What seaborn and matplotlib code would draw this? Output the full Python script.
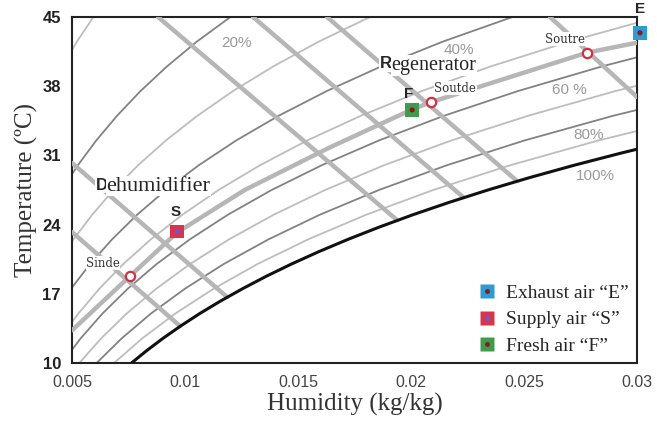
import numpy as np
import pandas as pd
import matplotlib
matplotlib.use("Agg")
import matplotlib.pyplot as plt
import seaborn as sns
from matplotlib.lines import Line2D
from matplotlib.legend_handler import HandlerTuple

nan = np.nan
# ---------------- data ----------------
temps = [10, 12.5, 15, 17.5, 20, 22.5, 25, 27.5, 30, 32.5, 35, 37.5, 40, 42.5, 45]
rh_levels = [10, 20, 30, 40, 50, 60, 70, 80, 90]
w_rh90 = [0.006860, 0.008114, 0.009569, 0.011258, 0.013198, 0.015441, 0.018020, 0.020982, 0.024383, 0.028274, 0.032735, nan, nan, nan, nan]
w_rh80 = [0.006091, 0.007202, 0.008491, 0.009987, 0.011704, 0.013688, 0.015966, 0.018581, 0.021580, 0.025006, 0.028929, 0.033400, nan, nan, nan]
w_rh70 = [0.005323, 0.006293, 0.007417, 0.008721, 0.010217, 0.011944, 0.013926, 0.016198, 0.018801, 0.021771, 0.025167, 0.029030, 0.033441, nan, nan]
w_rh60 = [0.004557, 0.005386, 0.006347, 0.007460, 0.008737, 0.010210, 0.011898, 0.013832, 0.016046, 0.018568, 0.021448, 0.024718, 0.028445, 0.032654, nan]
w_rh50 = [0.003793, 0.004482, 0.005280, 0.006205, 0.007264, 0.008485, 0.009884, 0.011484, 0.013314, 0.015397, 0.017771, 0.020463, 0.023525, 0.026975, 0.030915]
w_rh40 = [nan, 0.003580, 0.004217, 0.004954, 0.005797, 0.006769, 0.007882, 0.009154, 0.010606, 0.012257, 0.014136, 0.016263, 0.018678, 0.021395, 0.024488]
w_rh30 = [nan, nan, nan, 0.003708, 0.004338, 0.005063, 0.005893, 0.006840, 0.007921, 0.009147, 0.010542, 0.012118, 0.013904, 0.015909, 0.018187]
w_rh20 = [nan, nan, nan, nan, nan, nan, 0.003916, 0.004543, 0.005258, 0.006069, 0.006989, 0.008027, 0.009201, 0.010516, 0.012008]
w_rh10 = [nan, nan, nan, nan, nan, nan, nan, nan, nan, nan, 0.003475, 0.003988, 0.004567, 0.005214, 0.005947]

# saturation (100 %) curve
sat_T = [10, 11.25, 12.5, 13.75, 15, 16.25, 17.5, 18.75, 20, 21.25, 22.5, 23.75, 25, 26.25, 27.5, 28.75, 30, 31.25, 32.5]
sat_w = [0.007632, 0.008304, 0.009028, 0.009811, 0.010650, 0.011559, 0.012534, 0.013575, 0.014699, 0.015907,
         0.017204, 0.018597, 0.020087, 0.021689, 0.023401, 0.025239, 0.027211, 0.029324, 0.031575]

# thick process curve (dehumidifier -> regenerator)
proc_w = [0.0050, 0.00757, 0.00965, 0.01264, 0.0164, 0.0201, 0.0209, 0.0278, 0.0300]
proc_T = [13.3, 18.8, 23.2, 27.5, 31.8, 35.7, 36.4, 41.4, 42.4]

# thick diagonal lines (start / end)
diag_w0 = [0.008805, 0.013009, 0.016283, 0.026150, 0.005000, 0.005000]
diag_T0 = [45.0, 45.0, 45.0, 45.0, 30.23, 23.25]
diag_w1 = [0.019381, 0.022301, 0.024690, 0.030000, 0.011858, 0.009779]
diag_T1 = [24.46, 26.79, 28.41, 36.91, 16.68, 13.74]

# state points
pt_names = ["Exhaust air \u201cE\u201d", "Supply air \u201cS\u201d", "Fresh air \u201cF\u201d"]
pt_letters = ["E", "S", "F"]
pt_w = [0.03013, 0.00965, 0.02005]
pt_T = [43.4, 23.3, 35.6]
pt_face = ["#2f9bd3", "#d8344c", "#3f9c4e"]
pt_dot = ["#8b1a1a", "#6a5acd", "#8b1a1a"]

open_names = ["Sinde", "Soutde", "Soutre"]
open_w = [0.00757, 0.0209, 0.0278]
open_T = [18.8, 36.4, 41.4]

rh_labels = ["20%", "40%", "60 %", "80%", "100%"]
rh_lab_w = [0.01230, 0.02211, 0.02699, 0.02788, 0.02814]
rh_lab_T = [42.35, 41.65, 37.6, 33.1, 28.9]

xticks = [0.005, 0.01, 0.015, 0.02, 0.025, 0.03]
xtick_labels = ["0.005", "0.01", "0.015", "0.02", "0.025", "0.03"]
yticks = [10, 17, 24, 31, 38, 45]

# ---------------- build frames ----------------
curves = {10: w_rh10, 20: w_rh20, 30: w_rh30, 40: w_rh40, 50: w_rh50,
          60: w_rh60, 70: w_rh70, 80: w_rh80, 90: w_rh90}
rows = []
for rh in rh_levels:
    for T, w in zip(temps, curves[rh]):
        rows.append({"rh": rh, "w": w, "T": T})
df = pd.DataFrame(rows).dropna()

sns.set_theme(style="white")
plt.rcParams["font.family"] = ["Liberation Sans", "DejaVu Sans"]

fig = plt.figure(figsize=(6.57, 4.26), dpi=100)
ax = fig.add_axes([0.1096, 0.1479, 0.860, 0.8122])

palette = {rh: ("#828282" if rh % 20 == 0 else "#bdbdbd") for rh in rh_levels}

sns.lineplot(data=df, x="w", y="T", hue="rh", units="rh", palette=palette,
             estimator=None, sort=False, legend=False, lw=1.3, ax=ax, zorder=2)

# thick diagonal lines
for w0, T0, w1, T1 in zip(diag_w0, diag_T0, diag_w1, diag_T1):
    sns.lineplot(x=[w0, w1], y=[T0, T1], color="#b6b6b6", lw=3.2, ax=ax,
                 estimator=None, sort=False, zorder=3)

# thick process curve
sns.lineplot(x=proc_w, y=proc_T, color="#b6b6b6", lw=3.2, ax=ax,
             estimator=None, sort=False, zorder=3)

# saturation curve
sns.lineplot(x=sat_w, y=sat_T, color="#111111", lw=2.2,
             estimator=None, sort=False, ax=ax, zorder=4)

# RH labels
for lab, w, T in zip(rh_labels, rh_lab_w, rh_lab_T):
    ax.text(w, T, lab, color="#9a9a9a", fontsize=11, ha="center", va="center", zorder=5)

# text labels with white background
bbox = dict(facecolor="white", edgecolor="none", pad=0.5)
ax.text(0.00605, 28.0, "D", fontsize=12, fontweight="bold", ha="left", va="center",
        zorder=6, bbox=bbox)
ax.text(0.00652, 27.9, "ehumidifier", fontsize=16, family=["Liberation Serif"],
        ha="left", va="center", zorder=6, bbox=bbox)
ax.text(0.01860, 40.3, "R", fontsize=12, fontweight="bold", ha="left", va="center",
        zorder=6, bbox=bbox)
ax.text(0.01913, 40.1, "egenerator", fontsize=14.5, family=["Liberation Serif"],
        ha="left", va="center", zorder=6, bbox=bbox)

open_pos = [(0.00637, 20.1), (0.02195, 37.8), (0.02681, 42.75)]
for name, (w, T) in zip(open_names, open_pos):
    ax.text(w, T, name, fontsize=8.5, family=["DejaVu Serif"], color="#333333",
            ha="center", va="center", zorder=6,
            bbox=dict(facecolor="white", edgecolor="none", pad=0.3))

# open red circles
sns.scatterplot(x=open_w, y=open_T, s=45, facecolor="white", edgecolor="#d23040",
                linewidth=1.6, ax=ax, zorder=7, legend=False)

# state point markers
for w, T, fc, dc in zip(pt_w, pt_T, pt_face, pt_dot):
    ax.scatter([w], [T], marker="s", s=95, color=fc, edgecolor="none", zorder=8, clip_on=False)
    ax.scatter([w], [T], marker="o", s=14, color=dc, edgecolor="none", zorder=9, clip_on=False)

letter_pos = [(0.03013, 45.85), (0.00960, 25.3), (0.01990, 37.2)]
for letter, (w, T) in zip(pt_letters, letter_pos):
    ax.text(w, T, letter, fontsize=11, fontweight="bold", ha="center", va="center",
            zorder=9, clip_on=False)

# legend
handles = []
for fc, dc in zip(pt_face, pt_dot):
    h1 = Line2D([], [], marker="s", ls="none", markersize=10, color=fc, markeredgecolor="none")
    h2 = Line2D([], [], marker="o", ls="none", markersize=3.5, color=dc, markeredgecolor="none")
    handles.append((h1, h2))
leg = ax.legend(handles, pt_names, handler_map={tuple: HandlerTuple(ndivide=1)},
                loc="lower right", bbox_to_anchor=(1.006, -0.01), frameon=False,
                prop={"family": "Liberation Serif", "size": 14},
                handlelength=1.0, handletextpad=0.5, labelspacing=0.45, borderaxespad=0.2)

# axes styling
ax.set_xlim(0.005, 0.03)
ax.set_ylim(10, 45)
ax.set_xticks(xticks)
ax.set_xticklabels(xtick_labels)
ax.set_yticks(yticks)
ax.tick_params(axis="both", direction="in", length=5, width=1.2, color="#222222")
ax.tick_params(axis="x", labelsize=11.5, labelcolor="#444444", pad=9)
ax.tick_params(axis="y", labelsize=12, labelcolor="#222222", pad=8)
for lab in ax.get_yticklabels():
    lab.set_fontweight("bold")
for sp in ax.spines.values():
    sp.set_visible(True)
    sp.set_color("#222222")
    sp.set_linewidth(1.5)
ax.set_xlabel("Humidity (kg/kg)", fontsize=18, family=["Liberation Serif"], color="#333333", labelpad=2)
ax.set_ylabel("Temperature (\u00baC)", fontsize=18, family=["Liberation Serif"], color="#333333", labelpad=3)

fig.savefig("out.png", dpi=100, facecolor="white")
